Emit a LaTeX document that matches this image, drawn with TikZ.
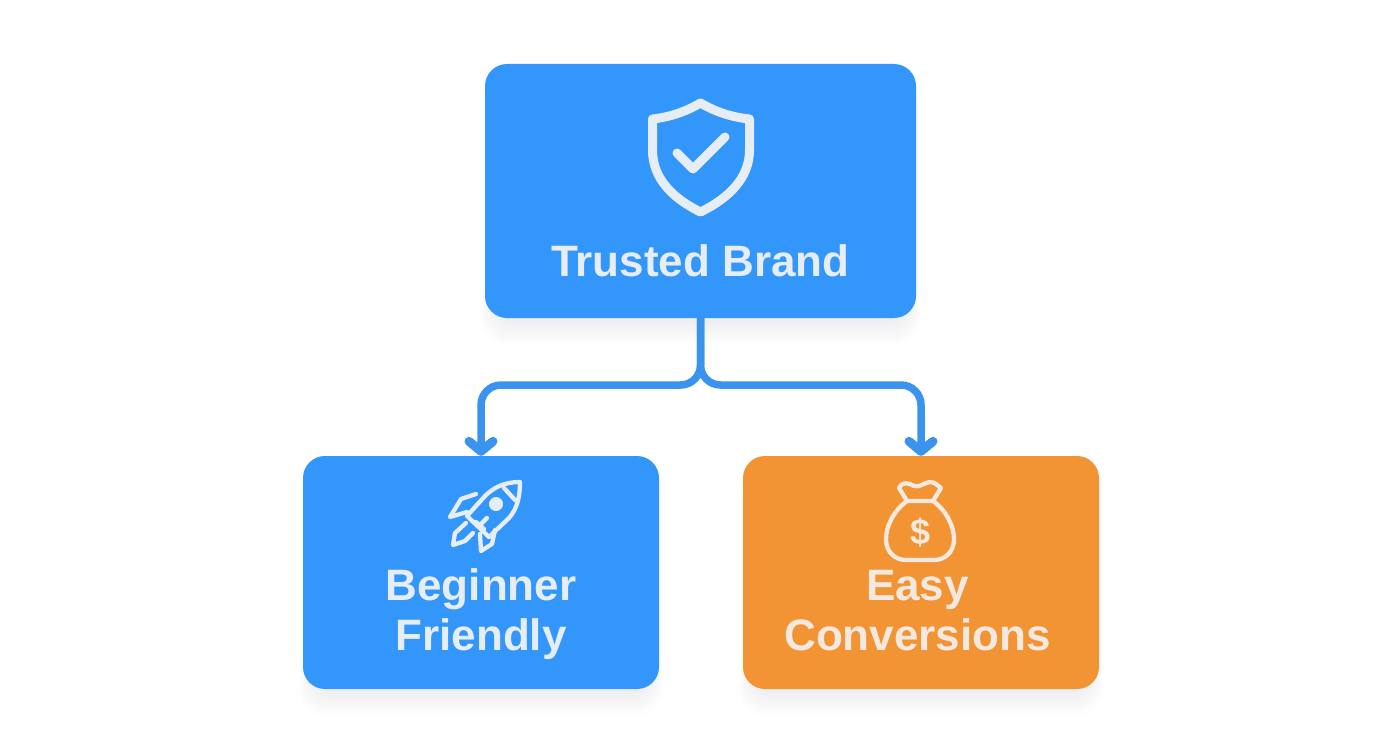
\documentclass[tikz,border=0pt]{standalone}
\usepackage{fontspec}
\setmainfont{Liberation Sans}
\usetikzlibrary{arrows.meta}
\definecolor{boxblue}{HTML}{3296FA}
\definecolor{boxorange}{HTML}{F39434}
\definecolor{linkblue}{HTML}{3A94EE}
\definecolor{icontext}{HTML}{E6EDF5}
\definecolor{icontextor}{HTML}{F3E9E0}
\newcommand{\softshadow}[4]{%
  \foreach \g in {1,...,8}{
    \fill[black!55!blue!50!gray,opacity=0.006,rounded corners=24pt]
      ({#1+8-\g*1.4},{#2+10}) rectangle ({#3-8+\g*1.4},{#4+2+\g*3});
  }}
\tikzset{
  x=1pt,y=-1pt,
  cardbox/.style={draw=none,rounded corners=22pt,inner sep=0pt},
  cardtext/.style={font=\bfseries\fontsize{44}{50}\selectfont,align=center,inner sep=0pt},
  conn/.style={draw=linkblue,line width=7.5pt,rounded corners=20pt,line join=round},
  connarrow/.style={conn,-{Straight Barb[round,length=10pt,width=24pt,line width=9pt]}},
  iconline/.style={draw=icontext,line width=9pt,line join=round,line cap=round},
  rocketline/.style={draw=icontext,line width=4.3pt,line join=round,line cap=round},
  bagline/.style={draw=icontextor,line width=4.3pt,line join=round,line cap=round},
}
\begin{document}
\begin{tikzpicture}
\useasboundingbox (0,0) rectangle (1392,752);
\fill[white] (0,0) rectangle (1392,752);
\softshadow{485}{64}{916}{318}
\softshadow{303}{456}{659}{689}
\softshadow{743}{456}{1099}{689}
\node[cardbox,fill=boxblue,minimum width=431pt,minimum height=254pt] (top) at (700.5,191) {};
\node[cardbox,fill=boxblue,minimum width=356pt,minimum height=233pt] (begin) at (481,572.5) {};
\node[cardbox,fill=boxorange,minimum width=356pt,minimum height=233pt] (easy) at (921,572.5) {};
% connectors
\coordinate (mid) at (700.5,385);
\coordinate (busL) at (481,385);
\coordinate (busR) at (921,385);
\draw[connarrow] (top.south) -- (mid) -- (busL) -- (begin.north);
\draw[connarrow] (top.south) -- (mid) -- (busR) -- (easy.north);
% labels
\node[cardtext,text=icontext] (lt) at (700.5,261) {Trusted Brand};
\node[cardtext,text=icontext] (lb) at (481,614) {Beginner\\Friendly};
\node[cardtext,text=icontextor] (le) at (917.5,611) {Easy\\Conversions};
% shield
\draw[iconline] (700.5,103) .. controls (685,112) and (670,117) .. (652.5,119)
  -- (652.5,150) .. controls (652.5,178) and (672,198) .. (700.5,212)
  .. controls (729,198) and (749.5,178) .. (749.5,150) -- (749.5,119)
  .. controls (731,117) and (716,112) .. (700.5,103) -- cycle;
\draw[iconline] (677,153) -- (693,169) -- (725,137);
% rocket
\draw[rocketline] (520,482) .. controls (505,482) and (494,487) .. (485,496)
  -- (467,516) -- (489,537) -- (509,518) .. controls (517,509) and (520,497) .. (520,482) -- cycle;
\draw[rocketline] (504,488) -- (515,500);
\fill[icontext] (496,504) circle (7pt);
\draw[rocketline] (476,494) -- (461,499) -- (450,517) -- (467,512);
\draw[rocketline] (495,530) -- (492,544) -- (481,551) -- (480,534);
\draw[rocketline] (476,522) -- (484,529);
\draw[rocketline] (480,525) -- (487,518);
\draw[rocketline] (466,523) -- (455,533) -- (453,545) -- (465,541) -- (473,533);
% money bag
\draw[bagline] (907,501) .. controls (893,511) and (886,527) .. (886,539)
  .. controls (886,552) and (895,560) .. (906,560) -- (934,560)
  .. controls (945,560) and (954,552) .. (954,539)
  .. controls (954,527) and (947,511) .. (933,501) -- cycle;
\draw[bagline] (907,501) -- (899,488) .. controls (903,480) and (910,484) .. (914,486)
  .. controls (920,488) and (925,482) .. (930,482)
  .. controls (935,482) and (938,486) .. (941,488) -- (933,501);
\node[text=icontextor,font=\bfseries\fontsize{36}{36}\selectfont,inner sep=0pt] (dollar) at (920,532) {\$};
\end{tikzpicture}
\end{document}
